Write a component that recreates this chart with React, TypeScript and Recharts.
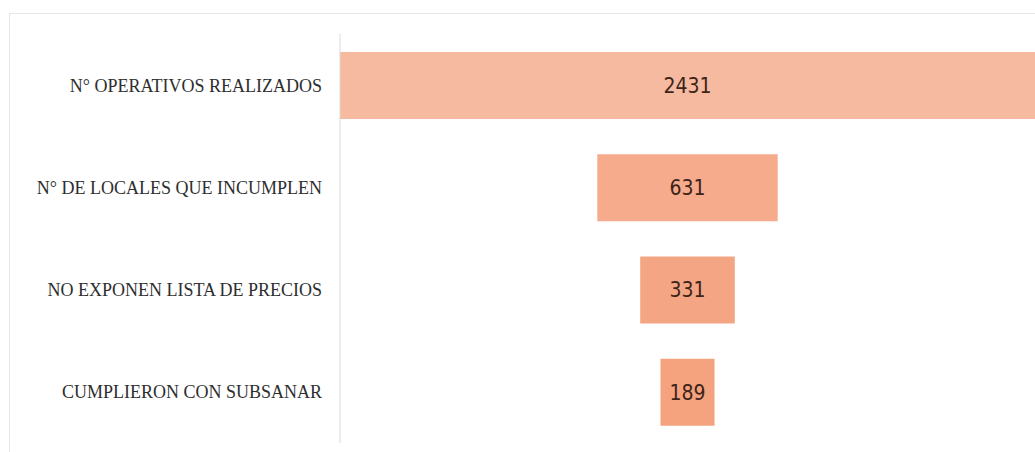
import React from 'react';
import { BarChart, Bar, XAxis, YAxis, Cell, LabelList } from 'recharts';

const categories = [
  'N° OPERATIVOS REALIZADOS',
  'N° DE LOCALES QUE INCUMPLEN',
  'NO EXPONEN LISTA DE PRECIOS',
  'CUMPLIERON CON SUBSANAR',
];
const values = [2431, 631, 331, 189];
const barColors = ['#f6baa0', '#f5ab8c', '#f4a684', '#f5a27f'];

const maxValue = Math.max(...values);

// funnel: a transparent spacer bar centres each value bar
const data = categories.map((name, i) => ({
  name,
  offset: (maxValue - values[i]) / 2,
  value: values[i],
}));

export default function App() {
  return (
    <div style={{ position: 'absolute', left: 0, top: 0, width: 1035, height: 452, background: '#fff', overflow: 'hidden' }}>
      <div
        style={{
          position: 'absolute',
          left: 9,
          top: 13,
          width: 1040,
          height: 450,
          border: '1px solid #e6e6e6',
          boxSizing: 'border-box',
        }}
      />
      <div style={{ position: 'absolute', left: 0, top: 0 }}>
        <BarChart
          width={1035}
          height={452}
          data={data}
          layout="vertical"
          margin={{ top: 34, right: 0, bottom: 9, left: 0 }}
          barSize={67}
        >
          <XAxis type="number" domain={[0, maxValue]} hide />
          <YAxis
            type="category"
            dataKey="name"
            width={340}
            tickSize={0}
            tickMargin={18}
            tickLine={false}
            axisLine={{ stroke: '#d9d9d9' }}
            tick={{ fill: '#2e2e2e', fontSize: 18, fontFamily: '"Liberation Serif", "Times New Roman", serif' }}
          />
          <Bar dataKey="offset" stackId="f" fill="transparent" isAnimationActive={false} />
          <Bar dataKey="value" stackId="f" isAnimationActive={false}>
            {data.map((d, i) => (
              <Cell key={d.name} fill={barColors[i]} />
            ))}
            <LabelList
              dataKey="value"
              position="center"
              fill="#3d2418"
              fontSize={21}
              fontWeight={500}
              fontFamily='"Liberation Sans Narrow", "DejaVu Sans Condensed", sans-serif'
            />
          </Bar>
        </BarChart>
      </div>
    </div>
  );
}
